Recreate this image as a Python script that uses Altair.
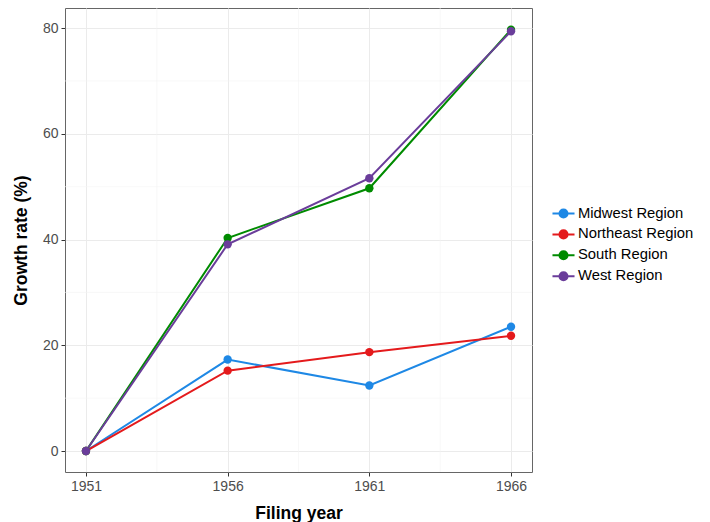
import altair as alt
import pandas as pd

years = [1951, 1956, 1961, 1966]
regions = ["Midwest Region", "Northeast Region", "South Region", "West Region"]
midwest = [0, 17.3, 12.4, 23.5]
northeast = [0, 15.2, 18.7, 21.8]
south = [0, 40.3, 49.7, 79.7]
west = [0, 39.1, 51.6, 79.4]
colors = ["#1E88E5", "#E41A1C", "#008B00", "#6A3D9A"]
y_ticks = [0, 20, 40, 60, 80]
minor_x = [1953.5, 1958.5, 1963.5]
minor_y = [10, 30, 50, 70]

rows = []
for name, vals in zip(regions, [midwest, northeast, south, west]):
    for yr, v in zip(years, vals):
        rows.append({"year": yr, "rate": v, "region": name})
df = pd.DataFrame(rows)

FONT = "Liberation Sans"
xscale = alt.Scale(domain=[1950.26, 1966.74], nice=False, zero=False)
yscale = alt.Scale(domain=[-3.97, 83.8], nice=False, zero=False)

x_axis = alt.Axis(values=years, format="d", title="Filing year", grid=True)
y_axis = alt.Axis(values=y_ticks, title="Growth rate (%)", grid=True)

minor_x_layer = alt.Chart(pd.DataFrame({"v": minor_x})).mark_rule(
    color="#f3f3f3", strokeWidth=0.6
).encode(x=alt.X("v:Q", scale=xscale, axis=x_axis))

minor_y_layer = alt.Chart(pd.DataFrame({"v": minor_y})).mark_rule(
    color="#f3f3f3", strokeWidth=0.6
).encode(y=alt.Y("v:Q", scale=yscale, axis=y_axis))

legend_symbol = "M -1.5 0 L 1.5 0 M 0.55 0 A 0.55 0.55 0 1 1 -0.55 0 A 0.55 0.55 0 1 1 0.55 0 Z"

color = alt.Color(
    "region:N",
    scale=alt.Scale(domain=regions, range=colors),
    legend=alt.Legend(
        title=None,
        orient="none",
        legendX=490,
        legendY=197,
        symbolType=legend_symbol,
        symbolSize=216,
        symbolStrokeWidth=2,
        labelFontSize=14.8,
        labelFont=FONT,
        labelColor="#000000",
        labelOffset=6,
        rowPadding=3.9,
        padding=0,
    ),
)

x_enc = alt.X("year:Q", scale=xscale, axis=x_axis)
y_enc = alt.Y("rate:Q", scale=yscale, axis=y_axis)

lines = alt.Chart(df).mark_line(strokeWidth=2).encode(
    x=x_enc, y=y_enc, color=color, order=alt.Order("year:Q")
)
points = alt.Chart(df).mark_point(filled=True, size=70, opacity=1).encode(
    x=x_enc, y=y_enc, color=color
)

chart = alt.layer(minor_x_layer, minor_y_layer, lines, points).properties(
    width=467,
    height=464,
    autosize=alt.AutoSizeParams(type="none"),
    padding={"left": 57, "top": 0, "right": 170, "bottom": 50},
).configure_view(
    stroke="#666666", strokeWidth=1
).configure_axis(
    domain=False,
    gridColor="#ebebeb",
    gridWidth=1,
    tickColor="#333333",
    tickSize=4,
    labelColor="#4d4d4d",
    labelFont=FONT,
    labelFontSize=14,
    labelPadding=3,
    titleFont=FONT,
    titleFontSize=17.5,
    titleFontWeight="bold",
    titleColor="#000000",
).configure_axisX(
    titlePadding=11,
).configure_axisY(
    titlePadding=12,
)

chart.save("out.html", embed_options={"renderer": "svg", "actions": False})
